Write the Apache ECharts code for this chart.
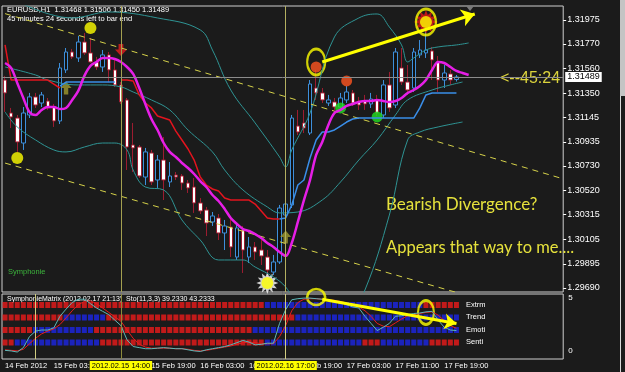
<!DOCTYPE html>
<html><head><meta charset="utf-8">
<script src="https://cdn.jsdelivr.net/npm/echarts@6/dist/echarts.min.js"></script>
<style>html,body{margin:0;padding:0;background:#1b1b1b;}#c{width:625px;height:372px;}</style>
</head><body><div id="c"></div>
<script>
// ---------- DATA ----------
const priceTicks = [1.29690,1.29895,1.30105,1.30315,1.30520,1.30730,1.30935,1.31145,1.31350,1.31560,1.31770,1.31975];
const xTickBars = [0,8,16,24,32,40,48,56,64,72];
const xTickLabels = ['14 Feb 2012','15 Feb 03:00','15 Feb 11:00','15 Feb 19:00','16 Feb 03:00','16 Feb 11:00','16 Feb 19:00','17 Feb 03:00','17 Feb 11:00','17 Feb 19:00'];
const opens = [1.31463,1.31182,1.31139,1.30926,1.31165,1.31319,1.31267,1.31284,1.31233,1.31114,
1.31549,1.31702,1.31651,1.31787,1.31694,1.31617,1.31574,1.31677,1.31549,1.31421,
1.31293,1.30909,1.30892,1.30636,1.30841,1.30611,1.30781,1.30594,1.30653,1.30645,
1.30585,1.30551,1.30415,1.30355,1.30253,1.30287,1.30159,1.30210,1.29954,1.30185,
1.29954,1.30040,1.30014,1.29954,1.29826,1.29912,1.30312,1.30398,1.31071,1.31097,
1.31011,1.31395,1.31353,1.31267,1.31276,1.31233,1.31293,1.31353,1.31284,1.31284,
1.31259,1.31293,1.31165,1.31421,1.31250,1.31566,1.31446,1.31395,1.31677,1.31694,
1.31711,1.31617,1.31463,1.31515,1.31468];
const highs = [1.31498,1.31225,1.31165,1.31233,1.31353,1.31353,1.31361,1.31310,1.31259,1.31608,
1.31736,1.31728,1.31839,1.31864,1.31822,1.31660,1.31719,1.31702,1.31651,1.31446,
1.31310,1.31097,1.30909,1.30884,1.30867,1.30824,1.30977,1.30764,1.30679,1.30662,
1.30611,1.30628,1.30457,1.30381,1.30338,1.30321,1.30270,1.30295,1.30227,1.30219,
1.30125,1.30082,1.30099,1.30014,1.29972,1.30398,1.30440,1.31165,1.31208,1.31208,
1.31463,1.31549,1.31395,1.31336,1.31310,1.31353,1.31412,1.31378,1.31319,1.31336,
1.31353,1.31336,1.31463,1.31532,1.31736,1.31736,1.31591,1.31736,1.31804,1.31890,
1.31745,1.31668,1.31591,1.31549,1.31506];
const lows = [1.31191,1.31054,1.30850,1.30867,1.31139,1.31225,1.31233,1.31208,1.31063,1.31088,
1.31523,1.31642,1.31617,1.31677,1.31608,1.31549,1.31532,1.31446,1.31404,1.31259,
1.30696,1.30679,1.30628,1.30568,1.30568,1.30543,1.30440,1.30551,1.30611,1.30526,
1.30500,1.30330,1.30321,1.30133,1.30219,1.30099,1.30014,1.29954,1.29929,1.29818,
1.29903,1.29929,1.29886,1.29741,1.29801,1.29895,1.30287,1.30372,1.30994,1.31011,
1.30994,1.31293,1.31267,1.31242,1.31208,1.31225,1.31267,1.31242,1.31208,1.31208,
1.31225,1.31156,1.31139,1.31191,1.31225,1.31421,1.31336,1.31361,1.31651,1.31651,
1.31463,1.31361,1.31395,1.31421,1.31450];
const closes = [1.31353,1.31148,1.30935,1.31182,1.31319,1.31250,1.31336,1.31225,1.31114,1.31566,
1.31702,1.31660,1.31787,1.31694,1.31617,1.31574,1.31677,1.31549,1.31421,1.31276,
1.30892,1.30884,1.30645,1.30850,1.30594,1.30781,1.30611,1.30645,1.30636,1.30585,
1.30543,1.30415,1.30347,1.30244,1.30304,1.30159,1.30219,1.30040,1.30202,1.30014,
1.30040,1.29997,1.29963,1.29843,1.29912,1.30372,1.30406,1.31139,1.31020,1.31054,
1.31429,1.31353,1.31293,1.31293,1.31233,1.31310,1.31361,1.31267,1.31250,1.31259,
1.31301,1.31182,1.31421,1.31225,1.31702,1.31446,1.31378,1.31702,1.31719,1.31719,
1.31634,1.31463,1.31523,1.31463,1.31489];
const magentaMA = [1.31608,1.31566,1.31438,1.31310,1.31191,1.31165,1.31208,1.31233,1.31233,1.31216,
1.31225,1.31293,1.31370,1.31498,1.31583,1.31617,1.31651,1.31651,1.31642,1.31617,
1.31574,1.31515,1.31395,1.31259,1.31131,1.31037,1.30926,1.30850,1.30807,1.30756,
1.30713,1.30662,1.30602,1.30551,1.30483,1.30432,1.30364,1.30287,1.30236,1.30193,
1.30176,1.30150,1.30116,1.30074,1.30040,1.29997,1.29963,1.30074,1.30253,1.30440,
1.30611,1.30824,1.30935,1.31080,1.31182,1.31208,1.31242,1.31259,1.31276,1.31284,
1.31284,1.31293,1.31284,1.31276,1.31284,1.31310,1.31353,1.31378,1.31412,1.31463,
1.31549,1.31617,1.31608,1.31574,1.31540,1.31523,1.31506];
const redStop1 = [[0,1.31762],[1,1.31463],[7,1.31463],[8,1.31429],[9,1.31395]];
const blueStop1 = [[9,1.31412],[10,1.31446],[18,1.31446]];
const redStop2 = [[19,1.31463],[20,1.31463],[21,1.31455],[22,1.31336],[23,1.31267],[24,1.31225],[25,1.31156],[26,1.31139],[27,1.31122],[28,1.31028],[29,1.30952],[30,1.30875],[31,1.30781],[32,1.30636],[33,1.30568],[34,1.30534],[35,1.30517],[36,1.30457],[37,1.30440],[40,1.30440],[41,1.30406],[42,1.30347],[43,1.30287],[44,1.30278],[45,1.30278]];
const blueStop2 = [[45,1.30278],[46,1.30287],[47,1.30398],[48,1.30568],[49,1.30611],[50,1.30798],[51,1.30952],[52,1.31020],[53,1.31020],[54,1.31037],[55,1.31071],[56,1.31105],[57,1.31131],[58,1.31139],[67,1.31139],[68,1.31225],[69,1.31336],[70,1.31353],[74,1.31353]];
const bandUpper = [[0,1.32188],[11,1.31992],[17,1.32043],[25,1.31992],[32,1.31890],[34,1.31719],[37,1.31378],[41,1.31097],[45,1.30807],[46,1.30722],[47,1.30867],[50,1.31182],[54,1.31830],[58,1.31992],[61,1.32026],[63,1.31915],[65,1.31762],[66,1.31617],[67,1.31651],[69,1.31719],[71,1.31745],[74,1.31762],[76,1.31779]];
const bandMid = [[0,1.31574],[5,1.31506],[7,1.31463],[12,1.31421],[16,1.31421],[19,1.31404],[21,1.31361],[24,1.31293],[27,1.31208],[30,1.31037],[34,1.30850],[36,1.30696],[39,1.30526],[43,1.30381],[45,1.30330],[48,1.30338],[52,1.30440],[55,1.30594],[58,1.30781],[61,1.30952],[64,1.31165],[66,1.31293],[70,1.31378],[73,1.31421],[75,1.31446]];
const bandLower = [[0,1.31191],[2,1.31063],[5,1.30952],[8,1.30867],[10,1.30850],[13,1.30892],[16,1.30926],[18,1.30926],[20,1.30867],[21,1.30696],[23,1.30551],[26,1.30526],[29,1.30270],[32,1.30099],[35,1.29929],[39,1.29929],[41,1.29869],[44,1.29784],[46,1.29699],[48,1.29545],[53,1.29460],[57,1.29545],[59,1.29673],[63,1.30312],[66,1.30952],[68,1.31020],[71,1.31063],[75,1.31105]];
const channelUpper = [[0,1.32029],[91,1.30628]];
const channelLower = [[0,1.30755],[91,1.29399]];
const currentPrice = 1.31489;
const yellowDots = [[2,1.30798],[14,1.31907]];
const orangeDots = [[51,1.31574],[56,1.31455]];
const greenDots = [[55,1.31225],[61,1.31148]];
const upArrows = [[10,1.31395],[46,1.30125]];
const downArrows = [[19,1.31719]];
const lowSun = [[43,1.29733]];
const highSun = [[69,1.31958]];
const stoMain = [3,2,0,8,28,38,40,40,44,65,78,90,96,96,88,80,74,68,58,48,22,10,8,6,6,7,8,7,6,6,4,2,1,4,6,8,10,13,17,21,18,13,14,16,16,52,77,95,97,98,98,97,96,95,93,90,86,82,80,65,52,39,45,52,65,66,68,70,71,73,74,58,45,40,39];
const stoSignal = [4,3,2,5,15,25,33,38,42,50,62,75,86,92,93,88,80,72,64,56,40,25,14,9,7,7,7,7,6,6,5,3,2,3,5,7,9,11,14,17,18,17,15,15,15,28,48,75,90,96,97,97,96,95,94,92,89,85,82,75,65,52,47,46,53,60,66,68,70,72,73,67,57,48,43];
const matrixNames = ['Extrm','Trend','Emoti','Senti'];
const extrmRow = 'RRRRRRRRRR'+'RRRRRRRRRR'+'RRRRRRRRRR'+'RRRRRRRRRR'+'RRR'+'BBBBBBBBBB'+'BBBBBBBBBB'+'BBBBBB'+'RRRRRR';
const trendRow = 'RRRRRRRRRR'+'BBBBBBB'+'RRRRRRRRRR'+'RRRRRRRRRR'+'RRRRRRRRRR'+'R'+'BBBBBBBBBB'+'BBBBBBBBBB'+'BBBBBBB';
const emotiRow = 'RRRRR'+'BBBBBBBBBB'+'RRRRRRRRRR'+'RRRRRRRRRR'+'RRRRRR'+'BBBBBBBBBB'+'BBBBBBBBBB'+'BBBBBBBBBB'+'BBBB';
const sentiRow = 'RR'+'BBBBBBBBBB'+'BBBB'+'RRRRRRRRRR'+'RRRRRRRRRR'+'RRRRRRR'+'BBBBBBBBBB'+'BBBBBB'+'RRR'+'BBBBBBBB'+'RRRRR';

// ---------- BUILD ----------
const NCAT = 92;
const cats = []; for (let i = 0; i < NCAT; i++) cats.push(String(i));
const ohlc = opens.map((o, i) => [o, closes[i], lows[i], highs[i]]);
const matrixRows = [extrmRow, trendRow, emotiRow, sentiRow];
const matrixData = [];
matrixRows.forEach((row, r) => { for (let i = 0; i < row.length; i++) matrixData.push([i, 4 - r, row[i]]); });
const FONT = 'Liberation Sans';
const sunPath = 'path://M10,0 L5.8,1.55 L8.66,5 L4.24,4.24 L5,8.66 L1.55,5.8 L0,10 L-1.55,5.8 L-5,8.66 L-4.24,4.24 L-8.66,5 L-5.8,1.55 L-10,0 L-5.8,-1.55 L-8.66,-5 L-4.24,-4.24 L-5,-8.66 L-1.55,-5.8 L0,-10 L1.55,-5.8 L5,-8.66 L4.24,-4.24 L8.66,-5 L5.8,-1.55 Z';
const upArrowPath = 'path://M5,0 L10,6 L7,6 L7,12 L3,12 L3,6 L0,6 Z';
const downArrowPath = 'path://M3,0 L7,0 L7,5 L10,5 L5,11 L0,5 L3,5 Z';
const TEAL = '#2f9494';
function lineS(data, color, width, extra) {
  return Object.assign({type: 'line', xAxisIndex: 0, yAxisIndex: 0, data: data, symbol: 'none', silent: true,
    lineStyle: {color: color, width: width}, itemStyle: {color: color}}, extra || {});
}
const GW = 561.2;

const chart = echarts.init(document.getElementById('c'), null, {renderer: 'canvas'});
const option = {
  animation: false,
  backgroundColor: '#1b1b1b',
  grid: [
    {left: 2, top: 6, width: GW, height: 286, show: true, borderColor: '#cfcfcf', borderWidth: 1, backgroundColor: 'transparent'},
    {left: 2, top: 294, width: GW, height: 65, show: true, borderColor: '#cfcfcf', borderWidth: 1, backgroundColor: 'transparent'}
  ],
  xAxis: [
    {type: 'category', gridIndex: 0, data: cats, boundaryGap: true, axisLine: {show: false}, axisTick: {show: false}, axisLabel: {show: false}, splitLine: {show: false}},
    {type: 'category', gridIndex: 1, data: cats, boundaryGap: true, axisLine: {show: false}, axisTick: {show: false}, splitLine: {show: false},
      axisLabel: {show: true, color: '#ffffff', fontSize: 7.5, fontFamily: FONT, align: 'left', margin: 3,
        interval: (i) => xTickBars.indexOf(i) >= 0,
        formatter: (v, i) => { const k = xTickBars.indexOf(i); return k >= 0 ? xTickLabels[k] : ''; }}}
  ],
  yAxis: [
    {type: 'value', gridIndex: 0, position: 'right', min: 1.29656, max: 1.32094, splitLine: {show: false},
      axisLine: {show: false}, axisTick: {show: true, length: 3, lineStyle: {color: '#ffffff'}, customValues: priceTicks},
      axisLabel: {color: '#ffffff', fontSize: 9, fontFamily: FONT, margin: 4, customValues: priceTicks, formatter: v => v.toFixed(5)}},
    {type: 'value', gridIndex: 1, position: 'right', min: -0.75, max: 5.38, splitLine: {show: false},
      axisLine: {show: false}, axisTick: {show: false},
      axisLabel: {color: '#ffffff', fontSize: 8, fontFamily: FONT, margin: 5, customValues: [0, 5], formatter: v => String(v)}},
    {type: 'value', gridIndex: 1, show: false, min: -12.7, max: 105.5},
    {type: 'value', gridIndex: 1, show: false, min: -0.32, max: 4.88}
  ],
  series: [
    lineS(bandUpper, TEAL, 1, {smooth: 0.4}),
    lineS(bandMid, TEAL, 1, {smooth: 0.4}),
    lineS(bandLower, TEAL, 1, {smooth: 0.4}),
    lineS(channelUpper, '#d6d24a', 1, {lineStyle: {color: '#d6d24a', width: 1, type: [6, 5]}}),
    lineS(channelLower, '#d6d24a', 1, {lineStyle: {color: '#d6d24a', width: 1, type: [6, 5]}}),
    {
      type: 'candlestick', xAxisIndex: 0, yAxisIndex: 0, data: ohlc, barWidth: 4, silent: true,
      itemStyle: {color: '#111111', color0: '#ffffff', borderColor: '#3d8fdb', borderColor0: '#9c1c30', borderWidth: 1},
      markLine: {
        silent: true, symbol: 'none', animation: false, precision: 5, label: {show: false},
        data: [
          {xAxis: 19, lineStyle: {color: '#a4a050', width: 1, type: 'solid'}},
          {xAxis: 46, lineStyle: {color: '#b4b060', width: 1, type: 'solid'}}
        ]
      }
    },
    lineS(redStop1, '#e3141e', 1.5),
    lineS(redStop2, '#e3141e', 1.5),
    lineS(blueStop1, '#3a8ee8', 1.5),
    lineS(blueStop2, '#3a8ee8', 1.5),
    lineS(magentaMA, '#e61ee6', 2.5, {smooth: 0.35,
      markLine: {silent: true, symbol: 'none', animation: false, precision: 5,
        data: [{yAxis: currentPrice, lineStyle: {color: '#8c8c8c', width: 1, type: 'solid'},
          label: {show: true, position: 'end', distance: 2, formatter: currentPrice.toFixed(5), color: '#000', backgroundColor: '#ffffff',
            fontSize: 9, fontFamily: FONT, padding: [1, 2, 0, 2]}}]}}),
    {type: 'scatter', xAxisIndex: 0, yAxisIndex: 0, data: yellowDots, symbol: 'circle', symbolSize: 12, itemStyle: {color: '#ffff00'}, silent: true},
    {type: 'scatter', xAxisIndex: 0, yAxisIndex: 0, data: orangeDots, symbol: 'circle', symbolSize: 11, itemStyle: {color: '#ff5520'}, silent: true},
    {type: 'scatter', xAxisIndex: 0, yAxisIndex: 0, data: greenDots, symbol: 'circle', symbolSize: 11, itemStyle: {color: '#22e022'}, silent: true},
    {type: 'scatter', xAxisIndex: 0, yAxisIndex: 0, data: upArrows, symbol: upArrowPath, symbolSize: [11, 13], itemStyle: {color: '#9f9a2e'}, silent: true},
    {type: 'scatter', xAxisIndex: 0, yAxisIndex: 0, data: downArrows, symbol: downArrowPath, symbolSize: [12, 12], itemStyle: {color: '#e31e1e'}, silent: true},
    {type: 'scatter', xAxisIndex: 0, yAxisIndex: 0, data: lowSun, symbol: sunPath, symbolSize: 22, itemStyle: {color: '#ffffff'}, silent: true},
    {type: 'scatter', xAxisIndex: 0, yAxisIndex: 0, data: highSun, symbol: sunPath, symbolSize: 24, itemStyle: {color: '#e31818'}, silent: true},
    {type: 'scatter', xAxisIndex: 0, yAxisIndex: 0, data: lowSun.concat(highSun), symbol: 'circle', symbolSize: 12, itemStyle: {color: '#ffff00'}, silent: true},
    {type: 'scatter', xAxisIndex: 0, yAxisIndex: 0, silent: true, symbol: 'circle',
      data: [{value: [51, 1.31617], symbolSize: [18, 26]}, {value: [69, 1.31958], symbolSize: [20, 26]}],
      itemStyle: {color: 'rgba(0,0,0,0)', borderColor: '#ffff00', borderWidth: 2.5},
      markLine: {silent: true, symbol: ['none', 'arrow'], symbolSize: 13, animation: false, precision: 5, label: {show: false},
        lineStyle: {color: '#ffff00', width: 3, type: 'solid'},
        data: [[{coord: [52, 1.31617]}, {coord: [77, 1.32026]}]]}},
    // ---------- sub window ----------
    {type: 'scatter', xAxisIndex: 1, yAxisIndex: 3, data: matrixData, symbol: 'rect', symbolSize: [5, 6], silent: true,
      itemStyle: {color: (p) => p.data[2] === 'R' ? '#ec1a1a' : '#1c26e6'}},
    {type: 'line', xAxisIndex: 1, yAxisIndex: 2, data: stoSignal, symbol: 'none', silent: true, lineStyle: {color: '#e81c1c', width: 1}},
    {type: 'line', xAxisIndex: 1, yAxisIndex: 2, data: stoMain, symbol: 'none', silent: true, lineStyle: {color: '#5cb8b8', width: 1},
      markLine: {
        silent: true, symbol: 'none', animation: false,
        data: [
          {xAxis: 5, lineStyle: {color: '#d0cc80', width: 1, type: 'solid'}, label: {show: false}},
          {xAxis: 19, lineStyle: {color: '#8c8a3c', width: 1, type: 'solid'},
            label: {show: true, position: 'start', distance: 2, formatter: '2012.02.15 14:00', color: '#000', backgroundColor: '#ffff00', fontSize: 7.5, fontFamily: FONT, padding: [1, 2, 0, 2]}},
          {xAxis: 46, lineStyle: {color: '#d0cc80', width: 1, type: 'solid'},
            label: {show: true, position: 'start', distance: 2, formatter: '2012.02.16 17:00', color: '#000', backgroundColor: '#ffff00', fontSize: 7.5, fontFamily: FONT, padding: [1, 2, 0, 2]}}
        ]
      }},
    {type: 'scatter', xAxisIndex: 1, yAxisIndex: 2, silent: true, symbol: 'circle',
      data: [{value: [51, 100], symbolSize: [18, 16]}, {value: [69, 72], symbolSize: [16, 24]}],
      itemStyle: {color: 'rgba(0,0,0,0)', borderColor: '#ffff00', borderWidth: 2.5},
      markLine: {silent: true, symbol: ['none', 'arrow'], symbolSize: 12, animation: false, label: {show: false},
        lineStyle: {color: '#ffff00', width: 3, type: 'solid'},
        data: [[{coord: [52, 96]}, {coord: [74, 52]}]]}}
  ],
  graphic: [
    {type: 'text', x: 7, y: 10, style: {text: 'EURUSD,H1  1.31468 1.31506 1.31450 1.31489', fill: '#ffffff', font: '7.5px ' + FONT, verticalAlign: 'middle'}},
    {type: 'text', x: 7, y: 19, style: {text: '45 minutes 24 seconds left to bar end', fill: '#ffffff', font: '7.5px ' + FONT, verticalAlign: 'middle'}},
    {type: 'text', x: 8, y: 272, style: {text: 'Symphonie', fill: '#3cb43c', font: '7.5px ' + FONT, verticalAlign: 'middle'}},
    {type: 'text', x: 500, y: 79, style: {text: '<--45:24', fill: '#dcd43c', font: '16px ' + FONT, verticalAlign: 'middle'}},
    {type: 'text', x: 386, y: 205, style: {text: 'Bearish Divergence?', fill: '#e6e23c', font: '17px Lato', verticalAlign: 'middle'}},
    {type: 'text', x: 386, y: 248, style: {text: 'Appears that way to me....', fill: '#e6e23c', font: '16.5px Lato', verticalAlign: 'middle'}},
    {type: 'text', x: 7, y: 299, style: {text: 'SymphonieMatrix (2012.02.17 21:13)  Sto(11,3,3) 39.2330 43.2333', fill: '#ffffff', font: '7px ' + FONT, verticalAlign: 'middle'}},
    {type: 'text', x: 466, y: 305, style: {text: matrixNames[0], fill: '#ffffff', font: '7.5px ' + FONT, verticalAlign: 'middle'}},
    {type: 'text', x: 466, y: 317, style: {text: matrixNames[1], fill: '#ffffff', font: '7.5px ' + FONT, verticalAlign: 'middle'}},
    {type: 'text', x: 466, y: 330, style: {text: matrixNames[2], fill: '#ffffff', font: '7.5px ' + FONT, verticalAlign: 'middle'}},
    {type: 'text', x: 466, y: 342, style: {text: matrixNames[3], fill: '#ffffff', font: '7.5px ' + FONT, verticalAlign: 'middle'}},
    {type: 'polygon', shape: {points: [[466, 6], [474, 6], [470, 11]]}, style: {fill: '#7a7a7a'}},
    {type: 'rect', shape: {x: 620, y: 0, width: 5, height: 96}, style: {fill: '#c4c4c4'}},
    {type: 'rect', shape: {x: 620, y: 96, width: 1, height: 276}, style: {fill: '#d8d8d8'}}
  ]
};
chart.setOption(option);
</script></body></html>
